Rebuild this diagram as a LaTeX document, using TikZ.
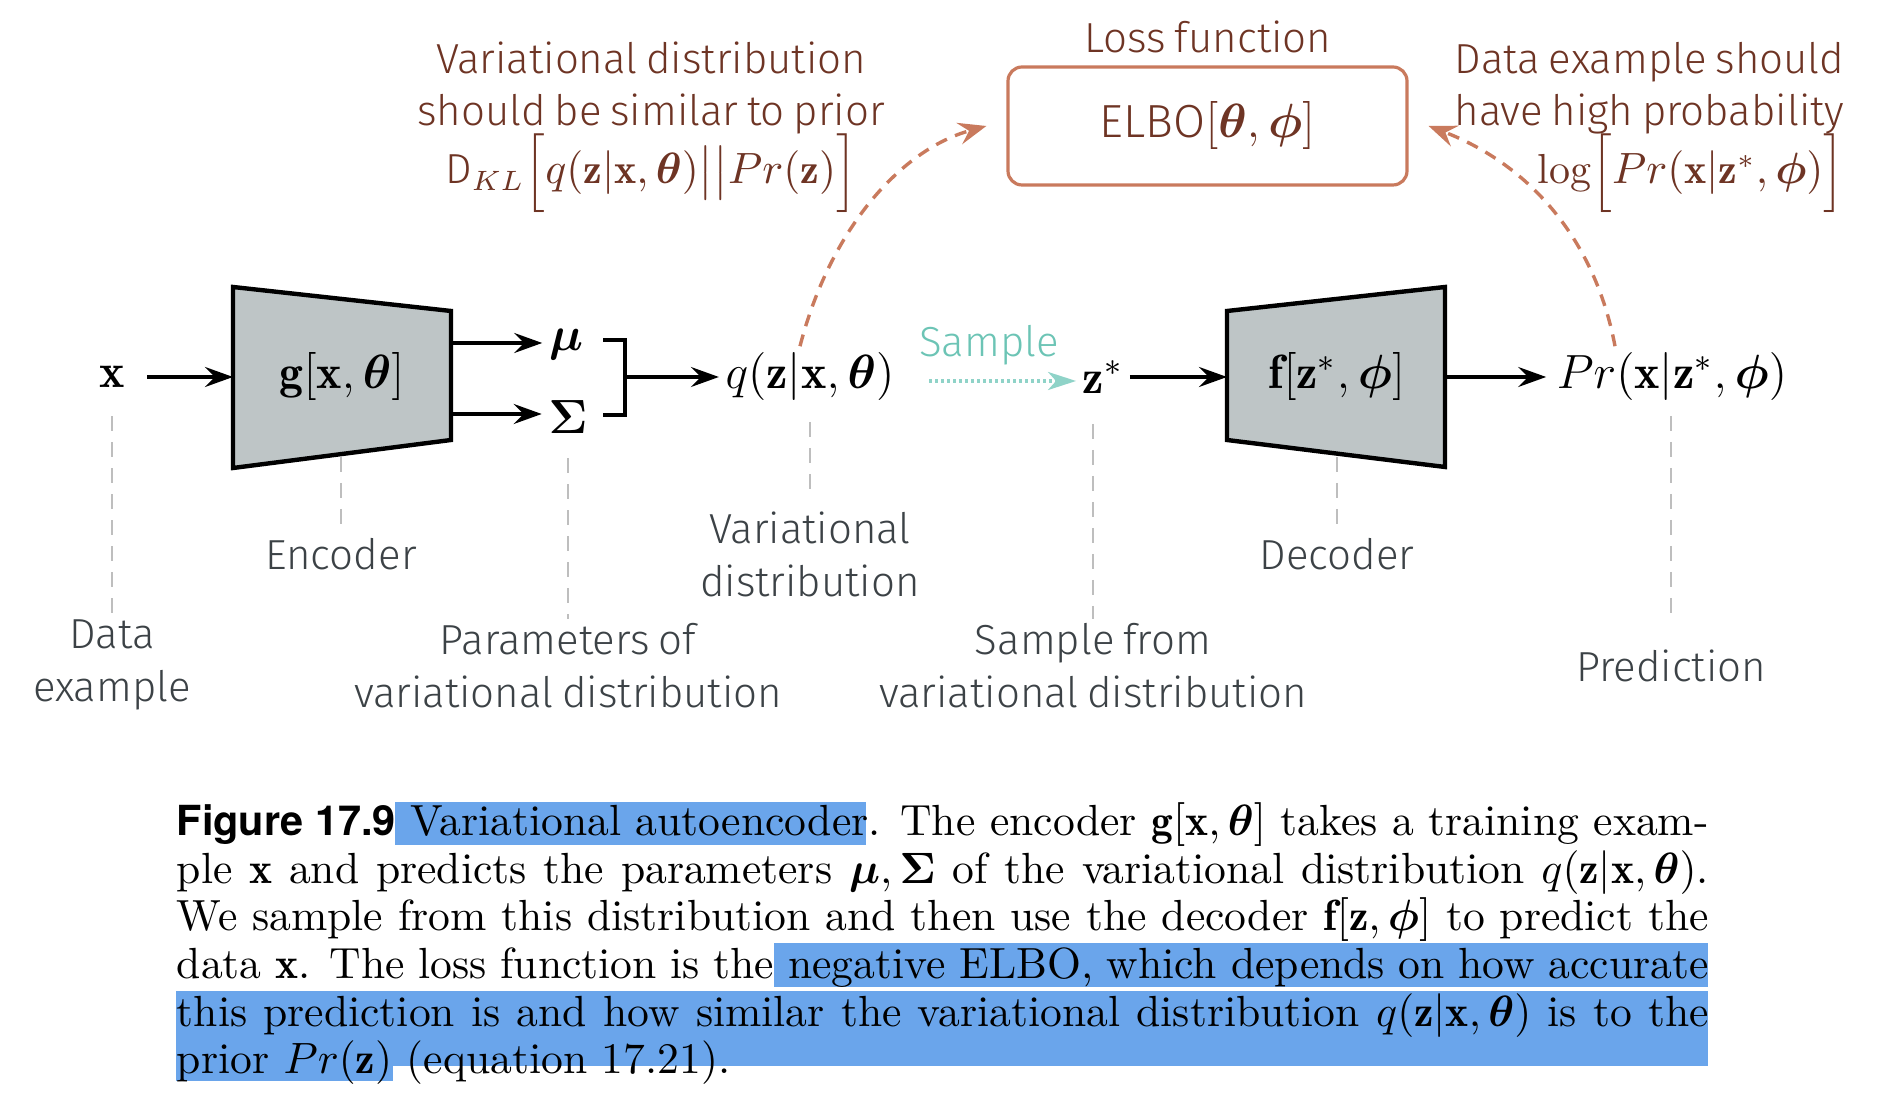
\documentclass[tikz,border=0pt]{standalone}
\usepackage{amsmath,bm}
\usepackage{fontspec}
\newfontfamily\labfont{Fira Sans}[UprightFont={* Light}, WordSpace=0.75]
\newfontfamily\capsans{TeX Gyre Heros}[Scale=0.95]
\usetikzlibrary{arrows.meta}
\definecolor{brownT}{RGB}{110,52,36}
\definecolor{lossC}{RGB}{201,122,93}
\definecolor{tealT}{RGB}{108,196,181}
\definecolor{tealA}{RGB}{143,211,200}
\definecolor{encFill}{RGB}{190,197,198}
\definecolor{guideC}{RGB}{190,190,190}
\definecolor{labC}{RGB}{60,66,70}
\definecolor{hiC}{RGB}{106,165,235}
\tikzset{
  mathnode/.style={inner sep=1.5pt, font=\fontsize{12}{14}\selectfont},
  lab/.style={text=labC, align=center, inner sep=1pt, font=\labfont\fontsize{10.5}{13.25}\selectfont},
  toptext/.style={text=brownT, inner sep=0pt, font=\labfont\fontsize{10.5}{12.9}\selectfont},
  arr/.style={-{Stealth[length=7pt,width=5pt,inset=2.5pt]}, line width=0.85pt},
  guide/.style={guideC, line width=0.7pt, dash pattern=on 3.75pt off 2.75pt},
  lossarr/.style={lossC, line width=0.85pt, dash pattern=on 3pt off 2.2pt, -{Stealth[length=7pt,width=5.5pt,inset=2.5pt]}},
  samplearr/.style={tealA, line width=0.8pt, dash pattern=on 0.8pt off 0.7pt, -{Stealth[length=7pt,width=4.5pt,inset=2pt]}},
  block/.style={draw=black, fill=encFill, line width=1.1pt, line join=miter},
  hilite/.style={fill=hiC, draw=none},
}
\begin{document}
\begin{tikzpicture}[x=0.25pt, y=-0.25pt]
\useasboundingbox (0,0) rectangle (1886,1110);

% ---------- main chain ----------
\node[mathnode] (x) at (112,377) {$\mathbf{x}$};
\draw[block] (233,287) -- (451,311) -- (451,440) -- (233,468) -- cycle;
\node[mathnode] (g) at (342,377) {$\mathbf{g}[\mathbf{x},\boldsymbol{\theta}]$};
\coordinate (encL) at (233,377);
\coordinate (encR1) at (451,343);
\coordinate (encR2) at (451,414);
\coordinate (encB) at (341,457);
\node[mathnode] (mu) at (566,345) {$\boldsymbol{\mu}$};
\node[mathnode] (sig) at (568,417) {$\boldsymbol{\Sigma}$};
\draw[line width=0.85pt] (603,340) -- (625,340) -- (625,415) -- (603,415);
\coordinate (br) at (625,377);
\node[mathnode] (q) at (810,377) {$q(\mathbf{z}|\mathbf{x},\boldsymbol{\theta})$};
\node[text=tealT, inner sep=0pt, anchor=base, font=\labfont\fontsize{10.5}{12}\selectfont] (samp) at (989,357) {Sample};
\node[mathnode] (zs) at (1103,377) {$\mathbf{z}^{*}$};
\draw[block] (1227,311) -- (1445,287) -- (1445,467) -- (1227,440) -- cycle;
\node[mathnode] (f) at (1337,377) {$\mathbf{f}[\mathbf{z}^{*},\boldsymbol{\phi}]$};
\coordinate (decL) at (1227,377);
\coordinate (decR) at (1445,377);
\coordinate (decB) at (1337,457);
\node[mathnode] (pr) at (1672,377) {$Pr(\mathbf{x}|\mathbf{z}^{*},\boldsymbol{\phi})$};

\draw[arr, shorten <=4pt] (x) -- (encL);
\draw[arr] (encR1) -- (encR1 -| mu.west);
\draw[arr] (encR2) -- (encR2 -| sig.west);
\draw[arr] (br) -- (q.west);
\draw[samplearr] ([xshift=7pt,yshift=-1pt]q.east) -- ([yshift=-1pt]zs.west);
\draw[arr] (zs) -- (decL);
\draw[arr] (decR) -- ([xshift=-1pt]pr.west);

% ---------- loss ----------
\node[draw=lossC, line width=0.8pt, rounded corners=3.5pt, minimum width=99.75pt, minimum height=29.5pt, inner sep=0pt,
      text=brownT, font=\labfont\fontsize{11.6}{14}\selectfont] (elbo) at (1207.5,126)
      {ELBO$\fontsize{12}{14}\selectfont[\boldsymbol{\theta},\boldsymbol{\phi}]$};
\node[toptext, anchor=base] (lossl) at (1208,53) {Loss function};
\node[toptext, anchor=base, align=center] (kl) at (651,184)
  {Variational distribution\\ should be similar to prior\\[-1pt]
   D$_{KL}\Big[q(\mathbf{z}|\mathbf{x},\boldsymbol{\theta})\big|\big|Pr(\mathbf{z})\Big]$};
\node[toptext, anchor=base east, align=right] (ll) at (1845,184)
  {Data example should\\ have high probability\\[-1pt]
   $\log\!\Big[Pr(\mathbf{x}|\mathbf{z}^{*},\boldsymbol{\phi})\Big]$};
\draw[lossarr] ([xshift=-2.5pt]q.north) .. controls (830,230) and (900,150) .. ([xshift=-5pt]elbo.west);
\draw[lossarr] ([xshift=-14.25pt]pr.north) .. controls (1595,240) and (1530,165) .. ([xshift=5pt]elbo.east);

% ---------- bottom labels ----------
\node[lab, anchor=base] (datal) at (112,702) {Data\\example};
\node[lab, anchor=base] (encl) at (341,570) {Encoder};
\node[lab, anchor=base] (paraml) at (568,708) {Parameters of\\variational distribution};
\node[lab, anchor=base] (varl) at (810,597) {Variational\\distribution};
\node[lab, anchor=base] (sampl) at (1093,708) {Sample from\\variational distribution};
\node[lab, anchor=base] (decl) at (1337,570) {Decoder};
\node[lab, anchor=base] (predl) at (1671,682) {Prediction};

\draw[guide, shorten <=5.5pt] (x.south) -- (datal.north);
\draw[guide] (encB) -- (encl.north);
\draw[guide, shorten <=4.5pt] (sig.south) -- (paraml.north);
\draw[guide, shorten <=3.5pt, shorten >=2pt] (q.south) -- (varl.north);
\draw[guide, shorten <=6pt] (zs.south -| sampl.north) -- (sampl.north);
\draw[guide] (decB) -- (decl.north);
\draw[guide, shorten <=2pt, shorten >=7.5pt] (pr.south -| predl.north) -- (predl.north);

% ---------- caption ----------
\fill[hilite] (395,802) rectangle (866,845);
\fill[hilite] (774,943) rectangle (1708,987);
\fill[hilite] (176,991) rectangle (1708,1066);
\fill[hilite] (176,1066) rectangle (393,1081);
\node[anchor=north west, inner sep=0pt, text width=383pt, align=justify,
      font=\fontsize{10.9}{11.9}\selectfont] (cap) at (176,802)
 {{\capsans\bfseries Figure 17.9} Variational autoencoder. The encoder $\mathbf{g}[\mathbf{x},\boldsymbol{\theta}]$ takes a training exam-\linebreak
 ple $\mathbf{x}$ and predicts the parameters $\boldsymbol{\mu},\boldsymbol{\Sigma}$ of the variational distribution $q(\mathbf{z}|\mathbf{x},\boldsymbol{\theta})$.\linebreak
 We sample from this distribution and then use the decoder $\mathbf{f}[\mathbf{z},\boldsymbol{\phi}]$ to predict the\linebreak
 data $\mathbf{x}$. The loss function is the negative ELBO, which depends on how accurate\linebreak
 this prediction is and how similar the variational distribution $q(\mathbf{z}|\mathbf{x},\boldsymbol{\theta})$ is to the\linebreak
 prior $Pr(\mathbf{z})$ (equation 17.21).\par};
\end{tikzpicture}
\end{document}
